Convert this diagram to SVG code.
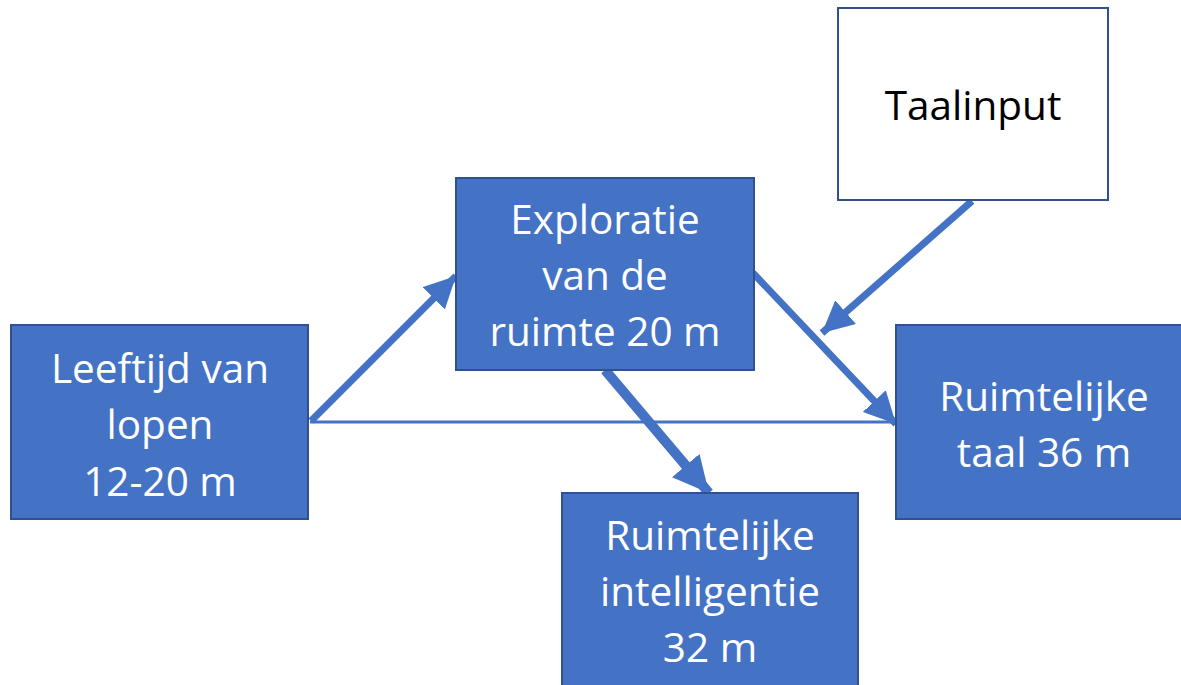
<svg xmlns="http://www.w3.org/2000/svg" width="1181" height="685" viewBox="0 0 1181 685">
<defs>
<style>
.box{fill:#4472C4;stroke:#2F528F;stroke-width:2}
.wbox{fill:#FFFFFF;stroke:#2F528F;stroke-width:2}
.t{font-family:"Open Sans",Lato,sans-serif;font-size:40.5px;fill:#FFFFFF;text-anchor:middle;font-variant-ligatures:none}
.tb{font-family:"Open Sans",Lato,sans-serif;font-size:40.5px;fill:#000000;text-anchor:middle;font-variant-ligatures:none}
.c{stroke:#4472C4;fill:none}
</style>
<marker id="ah" viewBox="0 0 10 10" refX="10" refY="5" markerWidth="4.5" markerHeight="4.5" markerUnits="strokeWidth" orient="auto">
<path d="M0,0 L10,5 L0,10 z" fill="#4472C4"/>
</marker>
<marker id="ah2" viewBox="0 0 10 10" refX="10" refY="5" markerWidth="3.6" markerHeight="3.6" markerUnits="strokeWidth" orient="auto">
<path d="M0,0 L10,5 L0,10 z" fill="#4472C4"/>
</marker>
</defs>
<rect width="1181" height="685" fill="#FFFFFF"/>
<g id="connectors">
<line class="c" x1="310" y1="422" x2="893" y2="422" stroke-width="3"/>
<line class="c" x1="311" y1="421" x2="456" y2="276" stroke-width="7" marker-end="url(#ah)"/>
<line class="c" x1="753" y1="273" x2="896" y2="424" stroke-width="7" marker-end="url(#ah)"/>
<line class="c" x1="972" y1="201" x2="822" y2="333" stroke-width="7" marker-end="url(#ah)"/>
<line class="c" x1="605" y1="370" x2="709" y2="493" stroke-width="10" marker-end="url(#ah2)"/>
</g>
<g id="leeftijd">
<rect class="box" x="11" y="325" width="297" height="194"/>
<text class="t" x="160" y="383">Leeftijd van</text>
<text class="t" x="160" y="439">lopen</text>
<text class="t" x="160" y="496">12-20 m</text>
</g>
<g id="exploratie">
<rect class="box" x="456" y="178" width="298" height="192"/>
<text class="t" x="605" y="234">Exploratie</text>
<text class="t" x="605" y="290">van de</text>
<text class="t" x="605" y="346">ruimte 20 m</text>
</g>
<g id="taalinput">
<rect class="wbox" x="838" y="8" width="270" height="192"/>
<text class="tb" x="973" y="120">Taalinput</text>
</g>
<g id="ruimtelijke-taal">
<rect class="box" x="896" y="325" width="296" height="194"/>
<text class="t" x="1044" y="411">Ruimtelijke</text>
<text class="t" x="1044" y="467">taal 36 m</text>
</g>
<g id="ruimtelijke-intelligentie">
<rect class="box" x="562" y="493" width="296" height="200"/>
<text class="t" x="710" y="550">Ruimtelijke</text>
<text class="t" x="710" y="606">intelligentie</text>
<text class="t" x="710" y="662">32 m</text>
</g>
</svg>
